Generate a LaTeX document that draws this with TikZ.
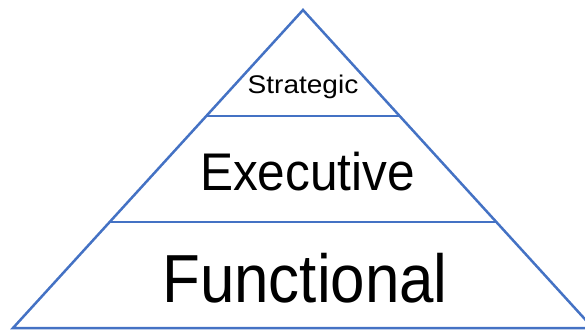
\documentclass[tikz,border=0pt]{standalone}
\usepackage{fontspec}
\setmainfont{Liberation Sans}
\usepackage{graphicx}
\usetikzlibrary{calc}
\definecolor{pyrblue}{HTML}{4472C4}
\begin{document}
\begin{tikzpicture}[x=1pt,y=-1pt,
  edge/.style={draw=pyrblue,line width=2.5pt},
  level/.style={anchor=base,inner sep=0pt,text=black}]
\useasboundingbox (0,0) rectangle (585,331);
\clip (0,0) rectangle (585,331);
% pyramid outline
\coordinate (apex) at (303,10);
\coordinate (bl) at (13,328);
\coordinate (br) at (593,328);
\draw[edge,line join=miter] (bl) -- (apex) -- (br) -- cycle;
% tier dividers at one and two thirds of the height
\coordinate (d1l) at ($(apex)!1/3!(bl)$);
\coordinate (d1r) at ($(apex)!1/3!(br)$);
\coordinate (d2l) at ($(apex)!2/3!(bl)$);
\coordinate (d2r) at ($(apex)!2/3!(br)$);
\draw[edge] (d1l) -- (d1r);
\draw[edge] (d2l) -- (d2r);
% tier labels
\node[level,font=\fontsize{25.5}{30}\selectfont] (strategic) at (303,94)
  {\scalebox{1.1}[1]{Strategic}};
\node[level,font=\fontsize{53}{60}\selectfont] (executive) at (307.5,190)
  {\scalebox{0.935}[1]{Executive}};
\node[level,font=\fontsize{68}{80}\selectfont] (functional) at (305,302)
  {\scalebox{0.91}[1]{Functional}};
\end{tikzpicture}
\end{document}
